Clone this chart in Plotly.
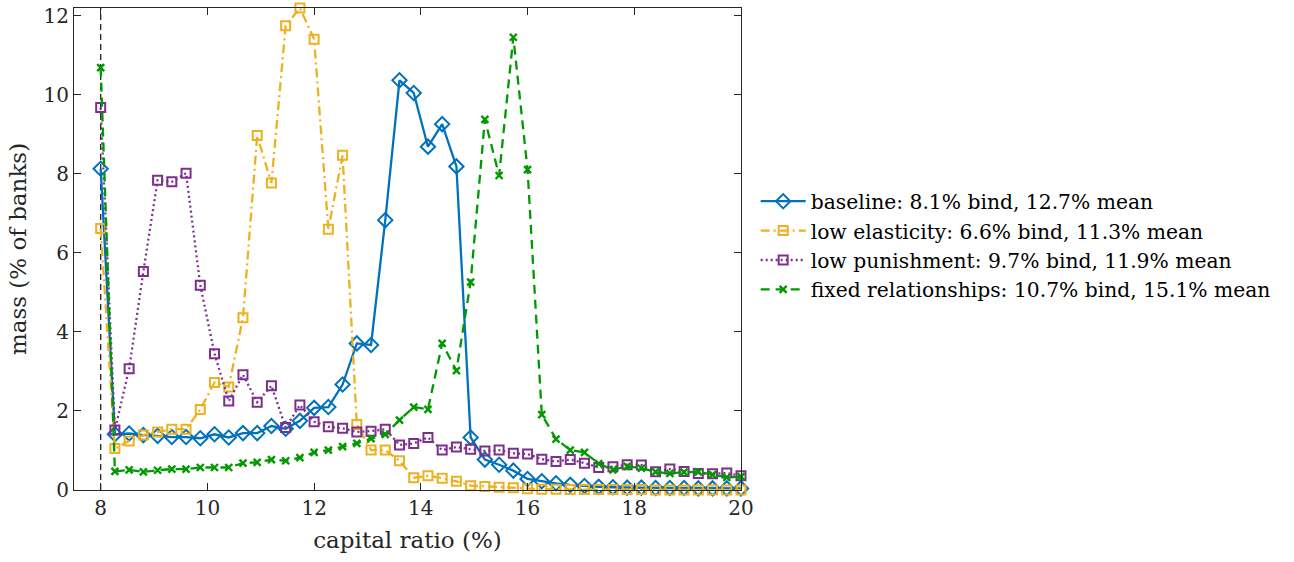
import plotly.graph_objects as go

# Capital-ratio grid: 46 points from 8% to 20%
capital_ratio = [8 + k * 12 / 45 for k in range(46)]

baseline = [8.13, 1.41, 1.43, 1.39, 1.37, 1.34, 1.34, 1.31, 1.41, 1.33,
            1.44, 1.44, 1.62, 1.55, 1.75, 2.08, 2.10, 2.67, 3.71, 3.67,
            6.83, 10.37, 10.05, 8.69, 9.26, 8.19, 1.33, 0.77, 0.64, 0.49,
            0.28, 0.22, 0.17, 0.13, 0.10, 0.08, 0.07, 0.06, 0.06, 0.05,
            0.05, 0.05, 0.04, 0.04, 0.04, 0.04]

low_elasticity = [6.62, 1.05, 1.24, 1.39, 1.47, 1.54, 1.54, 2.04, 2.72, 2.61,
                  4.36, 8.97, 7.77, 11.75, 12.20, 11.41, 6.60, 8.47, 1.66, 1.01,
                  1.01, 0.74, 0.31, 0.36, 0.30, 0.22, 0.11, 0.09, 0.07, 0.06,
                  0.03, 0.02, 0.02, 0.01, 0.01, 0.01, 0.01, 0.01, 0.01, 0.0,
                  0.0, 0.0, 0.0, 0.0, 0.0, 0.0]

low_punishment = [9.68, 1.52, 3.07, 5.53, 7.84, 7.80, 8.02, 5.18, 3.45, 2.25,
                  2.92, 2.22, 2.64, 1.58, 2.15, 1.73, 1.60, 1.56, 1.47, 1.49,
                  1.54, 1.14, 1.18, 1.33, 1.01, 1.09, 1.03, 0.99, 1.01, 0.93,
                  0.91, 0.78, 0.72, 0.77, 0.68, 0.57, 0.59, 0.64, 0.63, 0.46,
                  0.53, 0.47, 0.42, 0.41, 0.43, 0.36]

fixed_relationships = [10.69, 0.47, 0.51, 0.46, 0.50, 0.53, 0.53, 0.57, 0.57, 0.57,
                       0.68, 0.70, 0.77, 0.74, 0.82, 0.95, 1.01, 1.10, 1.18, 1.30,
                       1.41, 1.77, 2.10, 2.04, 3.71, 3.02, 5.26, 9.38, 7.96, 11.46,
                       8.11, 1.91, 1.29, 1.01, 0.95, 0.67, 0.51, 0.60, 0.55, 0.46,
                       0.42, 0.45, 0.46, 0.39, 0.32, 0.34]

series_names = [
    "baseline: 8.1% bind, 12.7% mean",
    "low elasticity: 6.6% bind, 11.3% mean",
    "low punishment: 9.7% bind, 11.9% mean",
    "fixed relationships: 10.7% bind, 15.1% mean",
]

# Regulatory minimum capital ratio
MIN_RATIO = 8

FONT = "DejaVu Serif, Liberation Serif, serif"
AXIS_COLOR = "#262626"

styles = [
    dict(color="#0072BD", dash="solid", symbol="diamond-open", size=11, mlw=2),
    dict(color="#EDB120", dash="9px,4px,2px,4px", symbol="square-open", size=9, mlw=2),
    dict(color="#7E2F8E", dash="2px,3px", symbol="square-open", size=9, mlw=2),
    dict(color="#009A00", dash="9px,6px", symbol="x-thin-open", size=7, mlw=2.4),
]

fig = go.Figure()

for name, values, st in zip(series_names,
                            [baseline, low_elasticity, low_punishment, fixed_relationships],
                            styles):
    fig.add_trace(go.Scatter(
        x=capital_ratio, y=values, name=name, mode="lines+markers",
        line=dict(color=st["color"], width=2.3, dash=st["dash"]),
        marker=dict(symbol=st["symbol"], size=st["size"], color=st["color"],
                    line=dict(color=st["color"], width=st["mlw"])),
        cliponaxis=False,
    ))

fig.add_shape(type="line", xref="x", yref="y domain", x0=MIN_RATIO, x1=MIN_RATIO,
              y0=0, y1=1, line=dict(color="#222222", width=1.3, dash="6px,4px"),
              layer="below")

axis_common = dict(
    showgrid=False, zeroline=False, showline=True, linecolor=AXIS_COLOR, linewidth=1,
    mirror="ticks", ticks="inside", ticklen=7, tickcolor=AXIS_COLOR, tickwidth=1,
    tickfont=dict(family=FONT, size=20, color="#262626"),
    ticklabeloverflow="allow",
)

fig.update_layout(
    width=1294, height=562,
    margin=dict(l=74, r=553, t=4, b=72),
    paper_bgcolor="white", plot_bgcolor="white",
    font=dict(family=FONT, size=20, color="#262626"),
    xaxis=dict(range=[7.5, 20], tickvals=[8, 10, 12, 14, 16, 18, 20],
               title=dict(text="capital ratio (%)", font=dict(family=FONT, size=23), standoff=12),
               **axis_common),
    yaxis=dict(range=[0, 12.2], tickvals=[0, 2, 4, 6, 8, 10, 12],
               title=dict(text="mass (% of banks)", font=dict(family=FONT, size=23), standoff=10),
               **axis_common),
    legend=dict(x=1.022, y=0.64, xanchor="left", yanchor="top",
                font=dict(family=FONT, size=20.3, color="#000000"),
                bgcolor="rgba(0,0,0,0)", itemwidth=45, tracegroupgap=0),
    showlegend=True,
)

fig.write_html("out.html")
